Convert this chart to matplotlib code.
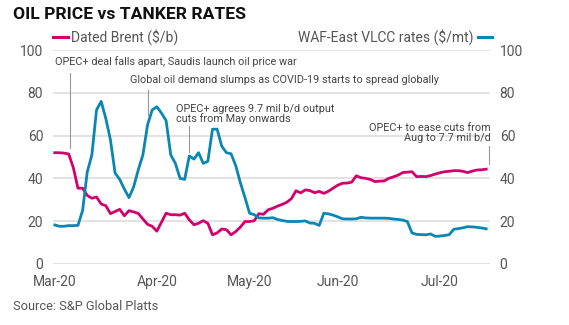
import numpy as np
import matplotlib.pyplot as plt
from matplotlib.lines import Line2D

plt.rcParams['font.family'] = ['Roboto', 'DejaVu Sans']

# trading-day index, month labels at first trading day
month_labels = ["Mar-20", "Apr-20", "May-20", "Jun-20", "Jul-20"]
month_pos = [0, 22, 42, 61, 83]

brent = [52, 52, 51.8, 51.4, 45, 35.4, 35.4, 32, 30.7, 31.3,
         28, 27.2, 23.5, 24.5, 25.5, 22.5, 24.9, 24.3, 23.6, 21,
         18.5, 17.6, 15.3, 19.5, 23.7, 23, 23, 22.8, 23.7, 20.6,
         18.3, 19, 20.2, 19, 13.6, 14.5, 16.3, 16, 13.6, 15.1,
         17.2, 19.8, 19.8, 20.2, 23.5, 23.2, 25.3, 26, 27, 27.8,
         28.8, 30.5, 34.2, 33.2, 34.6, 34.3, 33.3, 33.9, 33, 34,
         35.4, 36.8, 37.7, 37.8, 38.2, 41.2, 40.3, 40, 39.5, 38.5,
         38.7, 38.8, 40, 40.7, 41.5, 42.7, 42.9, 43.1, 40.8, 40.9,
         40.8, 41.3, 42, 42.6, 43.1, 43.3, 43.6, 43.6, 43.3, 42.7,
         43.4, 43.9, 44, 44.3]

vlcc = [18.2, 17.6, 17.6, 17.9, 17.9, 18.0, 25, 43, 51, 72,
        76, 68, 58, 42.5, 39.5, 35, 31, 36, 44, 51,
        65, 72, 73.5, 70.5, 67, 51, 47, 40, 39.5, 50.5,
        49, 52, 47, 48, 63, 63, 55, 52, 51.5, 46,
        38, 31, 23.7, 23, 21.5, 21.4, 21.4, 21.6, 20.8, 20.3,
        19.9, 19.8, 19.8, 19.9, 20.1, 19.1, 19, 18, 23.7, 23.4,
        22.8, 22, 21.1, 21, 21, 21.1, 21.8, 21.5, 21.4, 21.4,
        21.4, 21.4, 21.3, 21, 20.8, 20.5, 19.8, 14.5, 13.8, 13.7,
        13.6, 14.0, 12.9, 13.0, 13.3, 13.6, 16.2, 16.5, 16.9, 17.4,
        17.3, 17.1, 16.8, 16.4]

yticks = [0, 20, 40, 60, 80, 100]

MAGENTA = '#d1006c'
BLUE = '#0a86b5'
GREY = '#555555'

fig = plt.figure(figsize=(5.69, 3.25), dpi=100)
ax = fig.add_axes([0.093, 0.188, 0.768, 0.658])
ax2 = ax.twinx()

x = np.arange(len(brent))
ax.plot(x, brent, color=MAGENTA, lw=2.0, zorder=3)
ax2.plot(np.arange(len(vlcc)), vlcc, color=BLUE, lw=2.0, zorder=3)

for a in (ax, ax2):
    a.set_ylim(0, 100)
    a.set_yticks(yticks)
    a.set_xlim(-0.4, 93.8)
    for s in a.spines.values():
        s.set_visible(False)
    a.tick_params(length=0, labelsize=10, colors=GREY, pad=7)
ax.yaxis.grid(True, color='#dddddd', lw=1.2)
ax.set_axisbelow(True)
ax.set_xticks(month_pos)
ax.set_xticklabels(month_labels)
ax.tick_params(axis='x', pad=8)

# annotations
ann_kw = dict(fontsize=7.8, color='#444444', va='center')
ax.text(0, 94.4, "OPEC+ deal falls apart, Saudis launch oil price war", ha='left', **ann_kw)
ax.plot([3.2, 3.2], [89.3, 54.2], color='#999999', lw=0.8)
ax.text(16.3, 86, "Global oil demand slumps as COVID-19 starts to spread globally", ha='left', **ann_kw)
ax.plot([20, 20], [81.3, 69.6], color='#999999', lw=0.8)
ax.text(26.2, 70.1, "OPEC+ agrees 9.7 mil b/d output\ncuts from May onwards", ha='left',
        linespacing=1.0, **ann_kw)
ax.plot([29, 29], [64.5, 52.3], color='#999999', lw=0.8)
ax.text(94, 61.4, "OPEC+ to ease cuts from\nAug to 7.7 mil b/d", ha='right',
        linespacing=1.0, **ann_kw)
ax.plot([93.5, 93.5], [55.1, 46.7], color='#999999', lw=0.8, clip_on=False)

# title, legend, source
fig.text(0.023, 0.954, "OIL PRICE vs TANKER RATES", fontsize=12.6, fontweight='bold',
         color='#111111', va='center', ha='left')
ly = 0.886
fig.add_artist(Line2D([53/569, 68/569], [ly, ly], color=MAGENTA, lw=2.2))
fig.text(71/569, ly, "Dated Brent ($/b)", fontsize=10, color=GREY, va='center', ha='left')
fig.add_artist(Line2D([478/569, 492/569], [ly, ly], color=BLUE, lw=2.2))
fig.text(474/569, ly, "WAF-East VLCC rates ($/mt)", fontsize=10, color=GREY, va='center', ha='right')
fig.text(0.023, 0.058, "Source: S&P Global Platts", fontsize=9.2, color=GREY, va='center', ha='left')

fig.savefig('out.png', dpi=100)
